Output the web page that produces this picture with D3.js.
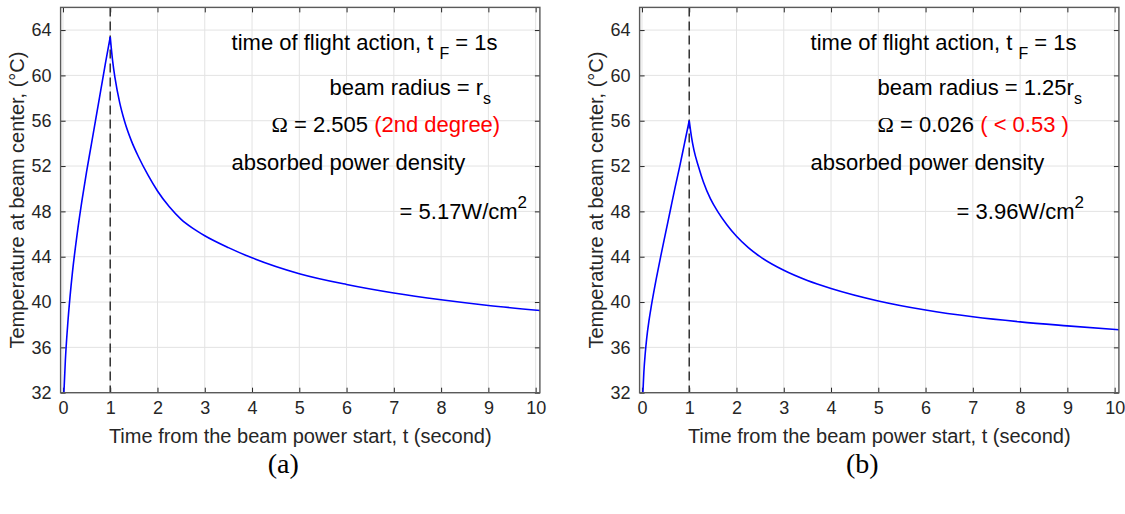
<!DOCTYPE html>
<html>
<head>
<meta charset="utf-8">
<script src="https://cdn.jsdelivr.net/npm/d3@7/dist/d3.min.js"></script>
<style>
  body { margin: 0; background: #fff; }
  svg { display: block; font-family: "Liberation Sans", Arial, sans-serif; }
</style>
</head>
<body>
<svg id="chart"></svg>
<script>
const width = 1125
const height = 514

const xTicks = [0, 1, 2, 3, 4, 5, 6, 7, 8, 9, 10]
const yTicks = [32, 36, 40, 44, 48, 52, 56, 60, 64]
const xDomain = [-0.05, 10.09]
const yDomain = [32, 66]
const flightTime = 1

// panel (a): beam radius = r_s
const riseTimeA = [0.02, 0.05, 0.1, 0.15, 0.2, 0.3, 0.4, 0.5, 0.6, 0.7, 0.8, 0.9, 1.0]
const riseTempA = [32, 34.8, 38, 40.5, 42.6, 46, 48.9, 51.5, 53.9, 56.3, 58.7, 61.1, 63.4]
const decayTimeA = [1.0, 1.05, 1.1, 1.2, 1.3, 1.45, 1.6, 1.8, 2.0, 2.25, 2.5, 2.75, 3.0, 3.5, 4.0, 5.0, 6.0, 7.0, 8.0, 9.0, 10.1]
const decayTempA = [63.4, 61.3, 59.8, 57.6, 56.0, 54.2, 52.8, 51.2, 49.8, 48.4, 47.3, 46.5, 45.85, 44.8, 43.9, 42.5, 41.55, 40.8, 40.2, 39.7, 39.25]

// panel (b): beam radius = 1.25 r_s
const riseTimeB = [0.02, 0.04, 0.07, 0.1, 0.15, 0.2, 0.3, 0.4, 0.5, 0.6, 0.7, 0.8, 0.9, 1.0]
const riseTempB = [32, 33.8, 35.5, 36.8, 38.4, 39.7, 42, 44.1, 46.1, 48.1, 50.1, 52, 54, 56]
const decayTimeB = [1.0, 1.05, 1.1, 1.2, 1.3, 1.45, 1.6, 1.8, 2.0, 2.25, 2.5, 3.0, 3.5, 4.0, 5.0, 6.0, 7.0, 8.0, 9.0, 10.1]
const decayTempB = [56, 54.5, 53.4, 51.9, 50.6, 49.1, 48.0, 46.8, 45.8, 44.8, 44.0, 42.8, 41.9, 41.2, 40.1, 39.3, 38.7, 38.25, 37.9, 37.55]

const notesA = [
  [{ t: 'time of flight action, t ' }, { t: 'F', sub: true }, { t: ' = 1s' }],
  [{ t: 'beam radius = r' }, { t: 's', sub: true }],
  [{ t: 'Ω', serif: true }, { t: ' = 2.505 ' }, { t: '(2nd degree)', red: true }],
  [{ t: 'absorbed power density' }],
  [{ t: '= 5.17W/cm' }, { t: '2', sup: true }],
]
const notesB = [
  [{ t: 'time of flight action, t ' }, { t: 'F', sub: true }, { t: ' = 1s' }],
  [{ t: 'beam radius = 1.25r' }, { t: 's', sub: true }],
  [{ t: 'Ω', serif: true }, { t: ' = 0.026 ' }, { t: '( < 0.53 )', red: true }],
  [{ t: 'absorbed power density' }],
  [{ t: '= 3.96W/cm' }, { t: '2', sup: true }],
]

const noteY = [50, 95, 132, 170, 219]

const panels = [
  { left: 60.6, rise: [riseTimeA, riseTempA], decay: [decayTimeA, decayTempA], notes: notesA, noteX: [171, 269, 211, 171, 339], caption: '(a)' },
  { left: 639.6, rise: [riseTimeB, riseTempB], decay: [decayTimeB, decayTempB], notes: notesB, noteX: [171, 238, 238, 171, 317], caption: '(b)' },
]

const plotTop = 7.4
const plotBottom = 392.7
const plotW = 479.3

const svg = d3.select('#chart').attr('width', width).attr('height', height)
svg.append('rect').attr('width', width).attr('height', height).attr('fill', '#fff')

const zip = (ts, vs) => ts.map((t, i) => [t, vs[i]])

panels.forEach((p, k) => {
  const x = d3.scaleLinear().domain(xDomain).range([p.left, p.left + plotW])
  const y = d3.scaleLinear().domain(yDomain).range([plotBottom, plotTop])
  const g = svg.append('g')

  // grid
  g.append('g')
    .selectAll('line')
    .data(xTicks)
    .join('line')
    .attr('x1', d => x(d)).attr('x2', d => x(d))
    .attr('y1', plotTop).attr('y2', plotBottom)
    .attr('stroke', '#e3e3e3').attr('stroke-width', 1)
  g.append('g')
    .selectAll('line')
    .data(yTicks)
    .join('line')
    .attr('x1', p.left).attr('x2', p.left + plotW)
    .attr('y1', d => y(d)).attr('y2', d => y(d))
    .attr('stroke', '#e3e3e3').attr('stroke-width', 1)

  // axes (ticks inside, box on)
  const tick = 5
  const ax = g.append('g')
    .attr('transform', `translate(0,${plotBottom})`)
    .call(d3.axisBottom(x).tickValues(xTicks).tickSizeInner(-tick).tickSizeOuter(0).tickPadding(9))
  const ay = g.append('g')
    .attr('transform', `translate(${p.left},0)`)
    .call(d3.axisLeft(y).tickValues(yTicks).tickSizeInner(-tick).tickSizeOuter(0).tickPadding(9))
  const axT = g.append('g')
    .attr('transform', `translate(0,${plotTop})`)
    .call(d3.axisTop(x).tickValues(xTicks).tickSizeInner(-tick).tickSizeOuter(0).tickFormat(''))
  const ayR = g.append('g')
    .attr('transform', `translate(${p.left + plotW},0)`)
    .call(d3.axisRight(y).tickValues(yTicks).tickSizeInner(-tick).tickSizeOuter(0).tickFormat(''))

  ;[ax, ay, axT, ayR].forEach(a => {
    a.select('.domain').remove()
    a.selectAll('.tick line').attr('stroke', '#262626').attr('stroke-width', 1)
    a.selectAll('.tick text')
      .attr('fill', '#262626')
      .style('font-size', '18px')
      .style('font-family', '"Liberation Sans", Arial, sans-serif')
  })

  // clip for curve
  const clipId = 'clip' + k
  svg.append('clipPath').attr('id', clipId)
    .append('rect').attr('x', p.left).attr('y', plotTop)
    .attr('width', plotW).attr('height', plotBottom - plotTop)

  // dashed line at flight time
  g.append('line')
    .attr('x1', x(flightTime)).attr('x2', x(flightTime))
    .attr('y1', plotTop).attr('y2', plotBottom)
    .attr('stroke', '#333').attr('stroke-width', 1.5)
    .attr('stroke-dasharray', '9,5')

  const line = d3.line().x(d => x(d[0])).y(d => y(d[1])).curve(d3.curveMonotoneX)
  ;[p.rise, p.decay].forEach(seg => {
    g.append('path')
      .attr('clip-path', `url(#${clipId})`)
      .attr('d', line(zip(seg[0], seg[1])))
      .attr('fill', 'none')
      .attr('stroke', '#0000ff')
      .attr('stroke-width', 1.6)
  })

  // frame
  g.append('rect')
    .attr('x', p.left).attr('y', plotTop)
    .attr('width', plotW).attr('height', plotBottom - plotTop)
    .attr('fill', 'none').attr('stroke', '#5a5a5a').attr('stroke-width', 1.4)

  // axis titles
  g.append('text')
    .attr('x', p.left + plotW / 2).attr('y', 443)
    .attr('text-anchor', 'middle')
    .attr('fill', '#262626')
    .style('font-size', '20px')
    .text('Time from the beam power start, t (second)')
  g.append('text')
    .attr('transform', `translate(${p.left - 37},${(plotTop + plotBottom) / 2}) rotate(-90)`)
    .attr('text-anchor', 'middle')
    .attr('fill', '#262626')
    .style('font-size', '20px')
    .text('Temperature at beam center, (°C)')

  // annotations
  p.notes.forEach((segs, i) => {
    const txt = g.append('text')
      .attr('x', p.left + p.noteX[i]).attr('y', noteY[i])
      .attr('fill', '#000')
      .style('font-size', '22px')
    let shift = 0
    segs.forEach(s => {
      const ts = txt.append('tspan').text(s.t)
      let target = 0
      if (s.sub) { target = 9; ts.style('font-size', '16px') }
      if (s.sup) { target = -11; ts.style('font-size', '17px') }
      if (target !== shift) { ts.attr('dy', target - shift); shift = target }
      if (s.red) ts.attr('fill', '#ff0000')
      if (s.serif) ts.style('font-family', '"Liberation Serif", "Times New Roman", serif')
    })
  })

  // caption
  svg.append('text')
    .attr('x', p.left + plotW / 2 - 17).attr('y', 473)
    .attr('text-anchor', 'middle')
    .style('font-family', '"Liberation Serif", "Times New Roman", serif')
    .style('font-size', '28px')
    .attr('fill', '#000')
    .text(p.caption)
})
</script>
</body>
</html>
